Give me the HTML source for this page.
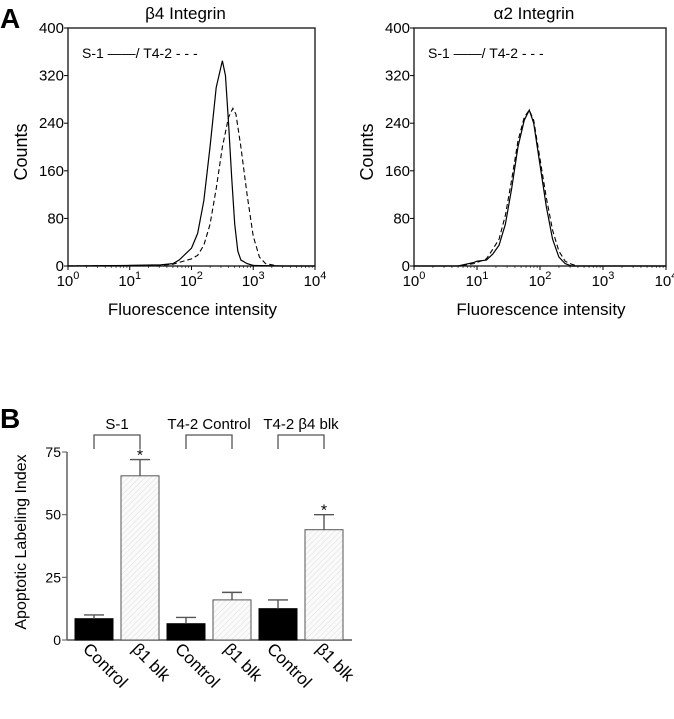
<!DOCTYPE html>
<html><head><meta charset="utf-8"><style>
body{margin:0;background:#fff}
svg{display:block;font-family:"Liberation Sans",sans-serif}
</style></head><body>
<svg id="fig" width="674" height="719" viewBox="0 0 674 719">
<text x="0" y="28" font-size="28" font-weight="bold">A</text>
<text x="0" y="428" font-size="28" font-weight="bold">B</text>
<g id="pA1"></g>
<g id="pA2"></g>
<g id="pB"></g>
</svg>
<script>
// Histogram data: log10 fluorescence vs counts
const b4S1X=[0,1,1.5,1.7,1.8,1.9,2.0,2.1,2.2,2.3,2.4,2.5,2.55,2.6,2.65,2.7,2.75,2.8,2.9,3.0,3.5,4];
const b4S1Y=[0,1,2,4,10,20,30,55,110,200,300,345,320,240,150,70,25,10,4,1,0,0];
const b4T4X=[0,1.5,1.7,2.0,2.1,2.2,2.3,2.4,2.5,2.6,2.67,2.72,2.8,2.9,3.0,3.1,3.2,3.4,4];
const b4T4Y=[0,1,3,12,18,35,70,130,200,250,265,255,200,120,50,15,4,0,0];
const a2S1X=[0,0.7,0.95,1.0,1.15,1.25,1.35,1.45,1.55,1.65,1.75,1.83,1.9,2.0,2.1,2.2,2.3,2.4,2.5,3,4];
const a2S1Y=[0,0,6,8,10,20,35,70,130,200,245,262,240,170,100,45,15,4,0,0,0];
const a2T4X=[0,0.7,0.95,1.0,1.15,1.25,1.35,1.45,1.55,1.65,1.75,1.83,1.9,2.0,2.1,2.2,2.3,2.4,2.5,2.6,3,4];
const a2T4Y=[0,0,4,6,12,28,45,85,145,210,250,262,245,180,115,60,25,8,3,0,0,0];
const countTicks=[0,80,160,240,320,400];
const expTicks=[0,1,2,3,4];
// Bar chart data
const barCats=["Control","β1 blk","Control","β1 blk","Control","β1 blk"];
const barVals=[8.5,65.5,6.5,16,12.5,44];
const barErr=[10,72,9,19,16,50];
const barSig=[false,true,false,false,false,true];
const groupLabels=["S-1","T4-2 Control","T4-2 β4 blk"];
const yTicksB=[0,25,50,75];

const NS="http://www.w3.org/2000/svg";
function mk(p,t,a){const e=document.createElementNS(NS,t);for(const k in a)e.setAttribute(k,a[k]);p.appendChild(e);return e;}

function hist(g,L,R,title,s1x,s1y,t4x,t4y){
 const T=28,B=266;
 const sx=v=>L+(R-L)*v/4, sy=v=>B-(B-T)*v/400;
 const r=mk(g,'rect',{x:L,y:T,width:R-L,height:B-T,fill:'none',stroke:'#222','stroke-width':1.4});
 
 
 const tt=mk(g,'text',{x:(L+R)/2-6,y:19,'font-size':17,'text-anchor':'middle'});tt.textContent=title;
 
 
 countTicks.forEach(v=>{mk(g,'line',{x1:L-4,x2:L,y1:sy(v),y2:sy(v),stroke:'#000'});
  const t=mk(g,'text',{x:L-4,y:sy(v)+5,'font-size':15,'text-anchor':'end'});t.textContent=v;
  
  });
 expTicks.forEach(v=>{mk(g,'line',{x1:sx(v),x2:sx(v),y1:B,y2:B+4,stroke:'#000'});
  for(let m=2;m<10&&v<4;m++){const xx=sx(v+Math.log10(m));mk(g,'line',{x1:xx,x2:xx,y1:B,y2:B+2,stroke:'#000','stroke-width':0.6});}
  const t=mk(g,'text',{x:sx(v),y:B+20,'font-size':15,'text-anchor':'middle'});
  t.innerHTML='10<tspan dy="-7" font-size="11">'+v+'</tspan>';
  
  });
 const xl=mk(g,'text',{x:(L+R)/2+1,y:B+49,'font-size':17,'text-anchor':'middle'});xl.textContent='Fluorescence intensity';
 
 
 const yl=mk(g,'text',{x:0,y:0,'font-size':18,'text-anchor':'middle',transform:`translate(${L-41},${(T+B)/2+5}) rotate(-90)`});yl.textContent='Counts';
 
 
 const lg=mk(g,'text',{x:L+14,y:T+30,'font-size':14});lg.textContent='S-1 ——/ T4-2 - - -';
 
 
 const p1=mk(g,'polyline',{points:s1x.map((x,i)=>sx(x)+','+sy(s1y[i])).join(' '),fill:'none',stroke:'#000','stroke-width':1.2});
 
 
 const p2=mk(g,'polyline',{points:t4x.map((x,i)=>sx(x)+','+sy(t4y[i])).join(' '),fill:'none',stroke:'#000','stroke-width':1.1,'stroke-dasharray':'5,3'});
 
 
}
hist(document.getElementById('pA1'),68,315,'β4 Integrin',b4S1X,b4S1Y,b4T4X,b4T4Y);
hist(document.getElementById('pA2'),414,666,'α2 Integrin',a2S1X,a2S1Y,a2T4X,a2T4Y);

(function(){
 const g=document.getElementById('pB');
 const L=67,R=352,B=640,T=452;
 const sy=v=>B-(B-T)*v/75;
 const defs=mk(g,'defs',{});
 const pat=mk(defs,'pattern',{id:'hatch',width:4,height:4,patternUnits:'userSpaceOnUse',patternTransform:'rotate(45)'});
 mk(pat,'rect',{width:4,height:4,fill:'#fafafa'});
 mk(pat,'line',{x1:0,y1:0,x2:0,y2:4,stroke:'#ddd','stroke-width':1});
 mk(g,'line',{x1:L,x2:L,y1:T,y2:B,stroke:'#555','stroke-width':1.4});
 mk(g,'line',{x1:L,x2:R,y1:B,y2:B,stroke:'#555','stroke-width':1.4});
 yTicksB.forEach(v=>{mk(g,'line',{x1:L-5,x2:L,y1:sy(v),y2:sy(v),stroke:'#555'});
  const t=mk(g,'text',{x:L-6,y:sy(v)+5,'font-size':14,'text-anchor':'end'});t.textContent=v;
  
  });
 const yl=mk(g,'text',{x:0,y:0,'font-size':16,'text-anchor':'middle',transform:`translate(${26},${542}) rotate(-90)`});yl.textContent='Apoptotic Labeling Index';
 
 
 const bw=38,step=46,x0=75;
 barVals.forEach((v,i)=>{
  const x=x0+i*step;
  const r=mk(g,'rect',{x:x,y:sy(v),width:bw,height:B-sy(v),fill:i%2?'url(#hatch)':'#000',stroke:i%2?'#555':'#000','stroke-width':1});
  
  
  const cx=x+bw/2;
  mk(g,'line',{x1:cx,x2:cx,y1:sy(v),y2:sy(barErr[i]),stroke:'#555','stroke-width':1.4});
  mk(g,'line',{x1:cx-10,x2:cx+10,y1:sy(barErr[i]),y2:sy(barErr[i]),stroke:'#555','stroke-width':1.4});
  if(barSig[i]){const s=mk(g,'text',{x:cx,y:sy(barErr[i])+1,'font-size':16,'text-anchor':'middle'});s.textContent='*';
   
   }
  const t=mk(g,'text',{x:0,y:0,'font-size':17,transform:`translate(${x+(i%2?10:7)},${650}) rotate(45)`});t.textContent=barCats[i];
  
  
 });
 groupLabels.forEach((lab,k)=>{
  const a=x0+2*k*step+bw/2, b=a+step;
  mk(g,'polyline',{points:`${a},${449} ${a},${435} ${b},${435} ${b},${449}`,fill:'none',stroke:'#555','stroke-width':1.3});
  const t=mk(g,'text',{x:(a+b)/2,y:429,'font-size':15,'text-anchor':'middle'});t.textContent=lab;
  
  
 });
})();
</script>
</body></html>
